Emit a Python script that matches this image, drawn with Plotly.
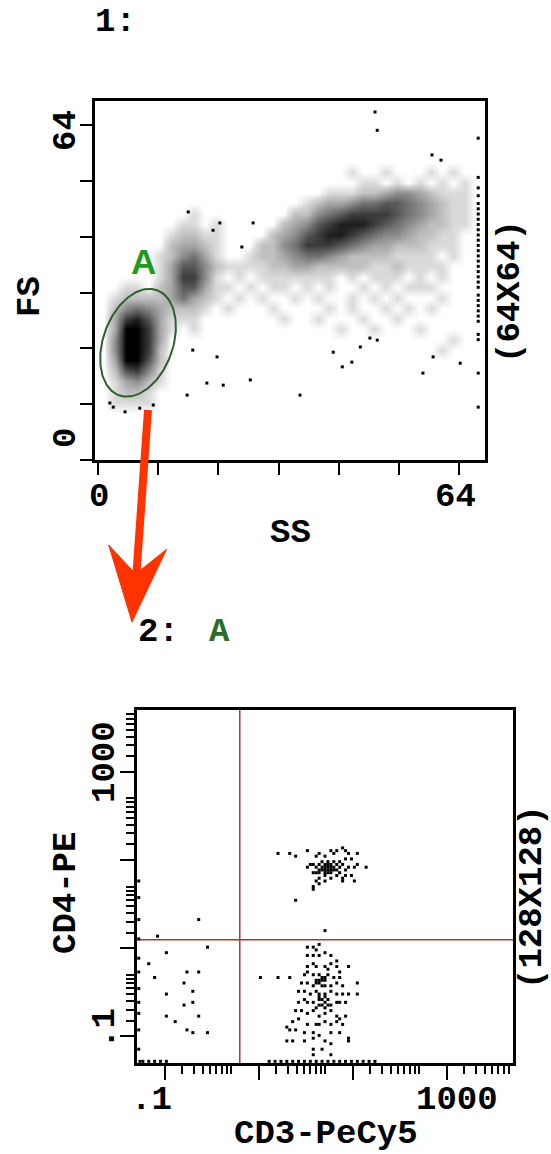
import numpy as np
import plotly.graph_objects as go

W, H = 551, 1154


def px(x):
    return x / W


def py(y):
    return 1 - y / H


# ---------------- Plot 1: FS vs SS (64X64) ----------------
SS_BINS = list(range(1, 69, 2))   # bin centres (2-channel bins)
FS_BINS = list(range(1, 69, 2))
# event density level per bin (0 = empty ... 9 = solid), top row = highest FS
DENSITY_ROWS = [
    "", "", "", "", "", "",
    "0000000000000000000000100100010100",
    "0000000000000000000000011010101010",
    "0000000000000000000011122344321110",
    "0000000000000000001233455665432110",
    "0000000010000000022456777765432110",
    "0000000110100000234678887654322110",
    "0000001221100002346788765443221100",
    "0000002332100022457776543322211100",
    "0000012453100122345543222211110100",
    "0000013664211112233222221121111000",
    "0000013774101011111110101110101000",
    "0011023663110101101010010101110000",
    "0122223532101010010100101010001000",
    "0245432221010001000010100101010000",
    "0378631110000000100100010010000000",
    "0399731010000000000001001000100000",
    "0499730000000000000000000000000100",
    "0499720000000000000000000000001000",
    "039962",
    "026741",
    "013421",
    "012210",
    "011110",
    "", "", "", "", "",
]
SS_OUTLIERS = [49.1, 49.5, 59.2, 60.8, 67.4, 35.8, 57.6, 59.4, 64.2, 49.5, 16.8, 19.3,
               21.1, 15.8, 27.0, 22.2, 2.1, 2.7, 4.8, 7.4, 9.8, 27.5, 25.5, 21.6, 20.4,
               16.0, 43.3, 45.0, 46.5, 48.2, 41.7, 67.4, 67.4]
FS_OUTLIERS = [66.5, 63.0, 58.3, 57.3, 61.5, 12.4, 16.6, 19.7, 18.5, 22.9, 21.0, 14.7,
               19.7, 12.4, 15.3, 14.3, 10.9, 10.1, 9.2, 9.9, 10.5, 45.3, 40.7, 45.3, 43.9,
               47.4, 17.8, 18.7, 21.6, 23.3, 20.6, 16.6, 10.1]
EDGE_SS = 67.4
EDGE_FS = [23.0, 24.0, 26.5, 27.5, 28.5, 29.5, 30.5, 31.5, 33.0, 34.0, 35.0, 36.0, 37.0,
           38.0, 39.0, 40.0, 41.0, 42.0, 43.0, 44.0, 45.0, 46.0, 47.0, 48.0, 49.0, 50.5,
           52.0, 54.0]
GATE_A = dict(ss=7.1, fs=22.4, a=6.4, shear=2.0, b=10.3)
LIN_TICKS = [0, 10.67, 21.33, 32, 42.67, 53.33, 64]
LEVEL_COLORS = ["#ffffff", "#dadada", "#c0c0c0", "#a6a6a6", "#8c8c8c",
                "#727272", "#585858", "#3c3c3c", "#1e1e1e", "#000000"]

# ---------------- Plot 2: CD4-PE vs CD3-PeCy5 (128X128, 4 decades) ----------------
CH_PER_DECADE = 32
UPPER_RIGHT = [(48, 76), (52, 76), (54, 75), (58, 77), (61, 75), (62, 76), (64, 75), (66, 77),
               (67, 76), (68, 77), (70, 78), (71, 77), (72, 76), (75, 76), (73, 74), (71, 74),
               (70, 72), (69, 71), (68, 72), (67, 73), (65, 72), (65, 71), (64, 72), (62, 72),
               (61, 71), (60, 72), (59, 72), (58, 71), (60, 69), (61, 69), (62, 69), (64, 68),
               (65, 69), (66, 69), (67, 70), (69, 69), (71, 70), (72, 71), (74, 71), (75, 72),
               (73, 68), (71, 68), (70, 67), (68, 68), (66, 67), (64, 66), (62, 67), (61, 66),
               (60, 64), (60, 63), (62, 65), (70, 66), (74, 66), (78, 71), (54, 59), (64, 71),
               (65, 70), (66, 71), (64, 70), (66, 70), (65, 73), (63, 70), (66, 72), (64, 69),
               (67, 71), (63, 71), (63, 73), (68, 70), (69, 73), (62, 70), (64, 48)]
LOWER_RIGHT = [(48, 31), (52, 31), (58, 42), (60, 42), (61, 41), (62, 43), (58, 39), (60, 39),
               (62, 39), (64, 40), (66, 39), (68, 37), (58, 35), (60, 36), (61, 35), (64, 35),
               (65, 34), (66, 36), (68, 35), (69, 33), (72, 35), (57, 32), (58, 33), (60, 32),
               (62, 32), (64, 31), (65, 32), (67, 31), (69, 31), (56, 29), (58, 29), (60, 28),
               (61, 30), (62, 29), (64, 28), (66, 28), (68, 29), (70, 28), (75, 29), (55, 26),
               (57, 26), (59, 25), (61, 26), (62, 25), (64, 25), (66, 26), (68, 25), (70, 25),
               (72, 25), (75, 25), (55, 22), (57, 23), (58, 22), (60, 22), (62, 21), (64, 22),
               (65, 21), (68, 22), (69, 22), (71, 22), (54, 19), (56, 19), (58, 18), (60, 19),
               (62, 17), (64, 18), (66, 19), (68, 17), (69, 16), (71, 17), (53, 15), (55, 16),
               (58, 14), (61, 14), (62, 14), (64, 15), (66, 14), (68, 15), (70, 14), (52, 12),
               (54, 12), (57, 11), (60, 11), (62, 10), (66, 11), (69, 11), (72, 9), (53, 8),
               (57, 8), (60, 9), (64, 8), (66, 7), (72, 8), (60, 5), (63, 5), (60, 3), (66, 3),
               (63, 30), (62, 30), (64, 30), (63, 31), (61, 29), (63, 28), (62, 23), (63, 21),
               (64, 20), (61, 20), (63, 23), (65, 23), (62, 24), (64, 24), (66, 21), (42, 31),
               (51, 13), (51, 8)]
LOWER_LEFT = [(7, 46), (21, 52), (24, 42), (10, 40), (4, 36), (17, 33), (21, 33), (6, 31),
              (16, 29), (19, 26), (10, 25), (19, 22), (16, 21), (10, 17), (13, 15), (21, 17),
              (17, 12), (19, 11), (24, 11)]
BOTTOM_PILEUP_CD3 = [1, 2, 4, 6, 8, 10, 45, 47, 49, 51, 53, 55, 57, 59, 61, 63, 65, 67, 69,
                     71, 73, 75, 77, 79, 81]
LEFT_PILEUP_CD4 = [5, 12, 18, 22, 27, 33, 38, 45, 52, 60, 66]
PILEUP_CH = 0.6
CD3_CUT = 1.24
CD4_CUT = 2.5
LOG_MAJOR = [0.2, 2, 20, 200]
LOG_MINOR = [0.3, 0.4, 0.5, 0.6, 0.7, 0.8, 0.9, 1, 3, 4, 5, 6, 7, 8, 9, 10,
             30, 40, 50, 60, 70, 80, 90, 100, 300, 400, 500, 600, 700, 800, 900]


def ch_to_val(ch):
    return 0.1 * 10 ** (ch / CH_PER_DECADE)


fig = go.Figure()

# ---- plot 1 traces
z = [[int(c) for c in row.ljust(len(SS_BINS), "0")] for row in reversed(DENSITY_ROWS)]
fig.add_trace(go.Heatmap(
    x=SS_BINS, y=FS_BINS, z=z, zmin=0, zmax=9, showscale=False, hoverinfo="skip",
    zsmooth="best",
    colorscale=[[i / 9, c] for i, c in enumerate(LEVEL_COLORS)],
    xaxis="x", yaxis="y"))
fig.add_trace(go.Scatter(
    x=SS_OUTLIERS + [EDGE_SS] * len(EDGE_FS), y=FS_OUTLIERS + EDGE_FS, mode="markers",
    marker=dict(symbol="square", size=3, color="black", line=dict(width=0)),
    xaxis="x", yaxis="y", hoverinfo="skip"))
t = np.linspace(0, 2 * np.pi, 160)
fig.add_trace(go.Scatter(
    x=GATE_A["ss"] + GATE_A["a"] * np.cos(t) + GATE_A["shear"] * np.sin(t),
    y=GATE_A["fs"] + GATE_A["b"] * np.sin(t), mode="lines",
    line=dict(color="#2f5f2f", width=2), xaxis="x", yaxis="y", hoverinfo="skip"))

# ---- plot 2 traces
fig.add_trace(go.Scatter(x=[CD3_CUT, CD3_CUT], y=[0.1, 1000], mode="lines",
                         line=dict(color="#a33a3a", width=1.5), xaxis="x2", yaxis="y2",
                         hoverinfo="skip"))
fig.add_trace(go.Scatter(x=[0.1, 1000], y=[CD4_CUT, CD4_CUT], mode="lines",
                         line=dict(color="#a33a3a", width=1.5), xaxis="x2", yaxis="y2",
                         hoverinfo="skip"))
events = (UPPER_RIGHT + LOWER_RIGHT + LOWER_LEFT
          + [(c, PILEUP_CH) for c in BOTTOM_PILEUP_CD3]
          + [(PILEUP_CH, c) for c in LEFT_PILEUP_CD4])
fig.add_trace(go.Scatter(
    x=[ch_to_val(e[0]) for e in events], y=[ch_to_val(e[1]) for e in events],
    mode="markers", marker=dict(symbol="square", size=3, color="black", line=dict(width=0)),
    xaxis="x2", yaxis="y2", hoverinfo="skip"))

axis_style = dict(showline=True, linewidth=3, linecolor="black", mirror=True,
                  showgrid=False, zeroline=False, showticklabels=False,
                  ticks="outside", tickcolor="black", tickwidth=2)

fig.update_layout(
    width=W, height=H, margin=dict(l=0, r=0, t=0, b=0),
    paper_bgcolor="white", plot_bgcolor="white", showlegend=False,
    xaxis=dict(domain=[px(95), px(485)], range=[-0.53, 68.6], anchor="y",
               tickmode="array", tickvals=LIN_TICKS, ticklen=12, **axis_style),
    yaxis=dict(domain=[py(460), py(101)], range=[0, 68.6], anchor="x",
               tickmode="array", tickvals=LIN_TICKS, ticklen=12, **axis_style),
    xaxis2=dict(domain=[px(137), px(513)], type="log", range=[-1, 3], anchor="y2",
                tickmode="array", tickvals=LOG_MAJOR, ticklen=14,
                minor=dict(tickmode="array", tickvals=LOG_MINOR, ticklen=8, tickwidth=2,
                           ticks="outside", tickcolor="black"),
                **axis_style),
    yaxis2=dict(domain=[py(1063), py(710)], type="log", range=[-1, 3], anchor="x2",
                tickmode="array", tickvals=LOG_MAJOR, ticklen=14,
                minor=dict(tickmode="array", tickvals=LOG_MINOR, ticklen=8, tickwidth=2,
                           ticks="outside", tickcolor="black"),
                **axis_style),
)

MONO = "Liberation Mono"
FS_ = 34


def label(text, x, y, angle=0, size=FS_, color="black", family=MONO, xanchor="center"):
    fig.add_annotation(text=text, x=px(x), y=py(y), xref="paper", yref="paper",
                       showarrow=False, textangle=angle, xanchor=xanchor, yanchor="middle",
                       borderpad=0,
                       font=dict(family=family, size=size, color=color, weight="bold"))


label("1:", 94, 22, xanchor="left")
label("FS", 30, 297, -90)
label("64", 66, 131, -90)
label("0", 66, 438, -90)
label("(64X64)", 510, 291, -90)
label("0", 99, 497)
label("64", 455, 497)
label("SS", 290, 533)
label("A", 143, 262, size=35, color="#1f9a1f", family="Liberation Sans")

label("2:", 137, 632, xanchor="left")
label("A", 208, 632, color="#2d6b2d", xanchor="left")
label("CD4-PE", 66, 893, -90)
label("1000", 105, 762, -90)
label(".1", 105, 1029, -90)
label("(128X128)", 532, 897, -90)
label(".1", 151, 1100)
label("1000", 457, 1100)
label("CD3-PeCy5", 326, 1134)

# red arrow linking gate A to plot 2
ARROW = "#ff3300"
fig.add_shape(type="line", xref="paper", yref="paper",
              x0=px(148), y0=py(410), x1=px(136), y1=py(580),
              line=dict(color=ARROW, width=8))
head = [(132, 622), (108.7, 545), (135.6, 574), (166.5, 549.4)]
path = "M " + " L ".join(f"{px(a):.5f},{py(b):.5f}" for a, b in head) + " Z"
fig.add_shape(type="path", xref="paper", yref="paper", path=path,
              fillcolor=ARROW, line=dict(color=ARROW, width=1))

fig.write_html("out.html", config={"displayModeBar": False},
               post_script="document.body.style.margin='0';")
